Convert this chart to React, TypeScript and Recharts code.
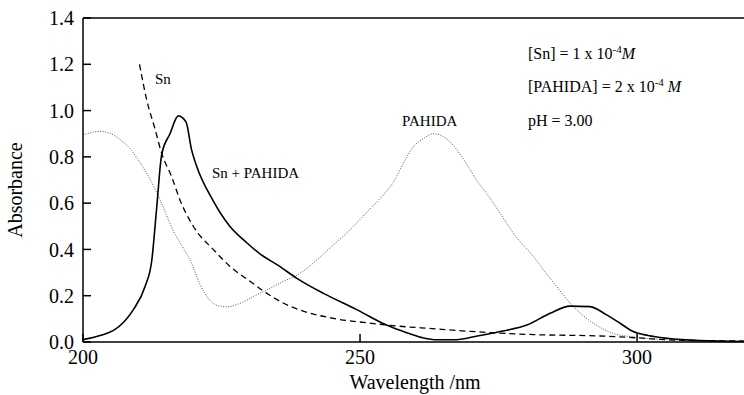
import React from 'react';
import { LineChart, Line, XAxis, YAxis, ReferenceLine } from 'recharts';

// wavelength (nm) / absorbance pairs
const complexWl = [200, 203.4, 205.5, 207.5, 209.1, 211.2, 212.4, 213.3, 214.2, 215.7, 217.2, 218.6, 219.6, 220.5, 223.5, 226.5, 229.5, 232, 235.3, 238.6, 243.4, 249.4, 254.8, 258.4, 261, 263.5, 267.4, 271, 275.3, 280.1, 284.3, 287.9, 291.5, 294.5, 297, 299.3, 302, 305.4, 311.4, 320];
const complexAbs = [0.01, 0.03, 0.05, 0.09, 0.14, 0.24, 0.35, 0.58, 0.81, 0.9, 0.977, 0.95, 0.83, 0.76, 0.61, 0.5, 0.43, 0.38, 0.33, 0.275, 0.21, 0.14, 0.073, 0.04, 0.02, 0.01, 0.01, 0.025, 0.045, 0.073, 0.124, 0.155, 0.153, 0.117, 0.08, 0.045, 0.028, 0.016, 0.006, 0.002];

const snWl = [210.2, 211.5, 213, 214.2, 216, 217.5, 219.9, 223.5, 227.1, 230, 233.2, 236, 239.2, 245.2, 251.2, 257.2, 263, 269.2, 281.3, 293.3, 300, 305, 312, 320];
const snAbs = [1.2, 1.046, 0.92, 0.815, 0.714, 0.614, 0.5, 0.4, 0.315, 0.265, 0.21, 0.17, 0.138, 0.102, 0.083, 0.068, 0.058, 0.047, 0.032, 0.026, 0.018, 0.01, 0.006, 0.004];

const pahidaWl = [200, 201.5, 203.1, 205, 206.7, 208.5, 210.3, 212.4, 214, 216.3, 218, 219.5, 221.1, 222.9, 224.5, 226, 228.3, 231.3, 233.2, 236, 239.2, 242, 245.2, 248, 251.2, 254, 256, 258, 259.5, 261.5, 263.2, 265.5, 267.5, 269.2, 271, 272.9, 275.3, 278, 281.3, 283.5, 285.5, 288.5, 292.1, 295.7, 299.3, 305, 312, 320];
const pahidaAbs = [0.895, 0.905, 0.91, 0.9, 0.875, 0.835, 0.775, 0.69, 0.61, 0.48, 0.41, 0.345, 0.25, 0.18, 0.156, 0.152, 0.167, 0.203, 0.225, 0.26, 0.297, 0.35, 0.42, 0.48, 0.56, 0.63, 0.69, 0.78, 0.84, 0.88, 0.9, 0.88, 0.83, 0.77, 0.7, 0.64, 0.556, 0.46, 0.369, 0.3, 0.239, 0.153, 0.081, 0.037, 0.022, 0.01, 0.004, 0.002];

const xTicks = [200, 250, 300];
const yTicks = [0, 0.2, 0.4, 0.6, 0.8, 1.0, 1.2, 1.4];

const toPoints = (wl: number[], abs: number[]) => wl.map((w, i) => ({ wl: w, abs: abs[i] }));

const complexData = toPoints(complexWl, complexAbs);
const snData = toPoints(snWl, snAbs);
const pahidaData = toPoints(pahidaWl, pahidaAbs);

const FONT = '"Liberation Serif", "Times New Roman", serif';

export default function App() {
  return (
    <div style={{ position: 'absolute', left: 0, top: 0, width: 744, height: 395, background: '#fff', fontFamily: FONT }}>
      <style>{`.recharts-text, .recharts-cartesian-axis-tick-value { font-family: ${FONT}; }`}</style>
      <LineChart width={744} height={395} margin={{ top: 18, right: 0, left: 0, bottom: 0 }} style={{ fontFamily: FONT }}>
        <XAxis
          dataKey="wl"
          type="number"
          domain={[200, 319.3]}
          allowDataOverflow
          ticks={xTicks}
          height={53}
          stroke="#000"
          strokeWidth={1.5}
          tickSize={-8}
          tickMargin={16}
          tick={{ fill: '#000', fontSize: 20, fontFamily: FONT }}
        />
        <YAxis
          dataKey="abs"
          type="number"
          domain={[0, 1.4]}
          ticks={yTicks}
          width={83}
          stroke="#000"
          strokeWidth={1.5}
          tickSize={-8}
          tickMargin={17}
          tickFormatter={(v: number) => v.toFixed(1)}
          tick={{ fill: '#000', fontSize: 20, fontFamily: FONT }}
        />
        <ReferenceLine y={1.4} stroke="#000" strokeWidth={1.5} />
        <Line data={pahidaData} dataKey="abs" type="monotone" stroke="#555" strokeWidth={1} strokeDasharray="1 1.5" dot={false} isAnimationActive={false} />
        <Line data={snData} dataKey="abs" type="monotone" stroke="#000" strokeWidth={1.3} strokeDasharray="6 4" dot={false} isAnimationActive={false} />
        <Line data={complexData} dataKey="abs" type="monotone" stroke="#000" strokeWidth={1.6} dot={false} isAnimationActive={false} />
      </LineChart>
      <svg width={744} height={395} style={{ position: 'absolute', left: 0, top: 0, pointerEvents: 'none' }} fontFamily={FONT} fill="#000">
        <text x={22} y={190} fontSize={20} textAnchor="middle" transform="rotate(-90 22 190)">Absorbance</text>
        <text x={415} y={389} fontSize={20} textAnchor="middle">Wavelength /nm</text>
        <text x={155} y={84} fontSize={15}>Sn</text>
        <text x={212} y={178} fontSize={15}>Sn + PAHIDA</text>
        <text x={402} y={126} fontSize={15}>PAHIDA</text>
        <text x={528} y={59} fontSize={16}>
          [Sn] = 1 x 10<tspan dy={-6} fontSize={11}>-4</tspan><tspan dy={6} fontStyle="italic">M</tspan>
        </text>
        <text x={528} y={92} fontSize={16}>
          [PAHIDA] = 2 x 10<tspan dy={-6} fontSize={11}>-4</tspan><tspan dy={6} fontStyle="italic"> M</tspan>
        </text>
        <text x={528} y={126} fontSize={16}>pH = 3.00</text>
      </svg>
    </div>
  );
}
